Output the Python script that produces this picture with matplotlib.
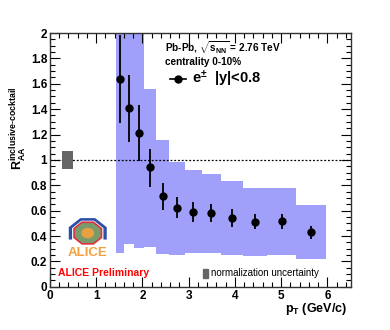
import numpy as np
import matplotlib
matplotlib.use("Agg")
import matplotlib.pyplot as plt
import matplotlib.patches as mpatches
from matplotlib.ticker import MultipleLocator

plt.rcParams['font.family'] = ['Liberation Sans', 'DejaVu Sans']
plt.rcParams['mathtext.fontset'] = 'custom'
plt.rcParams['mathtext.rm'] = 'Liberation Sans:bold'
plt.rcParams['mathtext.it'] = 'Liberation Sans:bold'
plt.rcParams['mathtext.bf'] = 'Liberation Sans:bold'
plt.rcParams['hatch.color'] = '#c4c4ff'
plt.rcParams['hatch.linewidth'] = 0.8

# data points
pt = [1.51, 1.70, 1.92, 2.16, 2.44, 2.75, 3.10, 3.49, 3.93, 4.44, 5.01, 5.65]
raa = [1.635, 1.41, 1.21, 0.94, 0.715, 0.623, 0.59, 0.584, 0.542, 0.513, 0.515, 0.429]
err_hi = [1.985, 1.67, 1.43, 1.086, 0.815, 0.705, 0.665, 0.652, 0.61, 0.573, 0.573, 0.479]
err_lo = [1.29, 1.14, 0.99, 0.79, 0.605, 0.54, 0.513, 0.508, 0.473, 0.453, 0.455, 0.376]

# systematic boxes
bin_edges = [1.42, 1.60, 1.81, 2.04, 2.29, 2.58, 2.91, 3.29, 3.70, 4.18, 4.70, 5.31, 5.97]
sys_top = [2.1, 2.1, 2.1, 1.556, 1.157, 0.986, 0.92, 0.892, 0.834, 0.776, 0.776, 0.644]
sys_bot = [0.27, 0.34, 0.303, 0.31, 0.258, 0.25, 0.263, 0.268, 0.25, 0.245, 0.25, 0.216]

norm_x = [0.255, 0.49]
norm_y = [0.93, 1.07]

fig = plt.figure(figsize=(3.9, 3.3), dpi=100)
ax = fig.add_axes([0.128, 0.131, 0.771, 0.769])

for i in range(len(sys_top)):
    ax.add_patch(mpatches.Rectangle((bin_edges[i], sys_bot[i]),
                                    bin_edges[i + 1] - bin_edges[i],
                                    sys_top[i] - sys_bot[i],
                                    facecolor='#a0a0fa', edgecolor='none',
                                    hatch='.....', lw=0, zorder=1))

ax.axhline(1.0, color='black', ls=(0, (1.5, 1.5)), lw=0.9, zorder=2)
ax.add_patch(mpatches.Rectangle((norm_x[0], norm_y[0]), norm_x[1] - norm_x[0],
                                norm_y[1] - norm_y[0], facecolor='#666666',
                                edgecolor='none', zorder=3))

y = np.array(raa)
ax.errorbar(pt, raa, yerr=[y - np.array(err_lo), np.array(err_hi) - y],
            fmt='o', color='black', ms=5, elinewidth=1.3, capsize=0, zorder=4)

ax.set_xlim(0, 6.5)
ax.set_ylim(0, 2)
ax.xaxis.set_major_locator(MultipleLocator(1))
ax.xaxis.set_minor_locator(MultipleLocator(0.2))
ax.yaxis.set_major_locator(MultipleLocator(0.2))
ax.yaxis.set_minor_locator(MultipleLocator(0.05))
ax.tick_params(which='both', direction='in', top=True, right=True,
               labelsize=8.5, width=0.8, pad=2)
ax.tick_params(which='major', length=7)
ax.tick_params(which='minor', length=3.5)
ax.set_yticks(np.arange(0, 2.01, 0.2))
ax.set_yticklabels(['0', '0.2', '0.4', '0.6', '0.8', '1', '1.2', '1.4', '1.6', '1.8', '2'])
for lab in ax.get_xticklabels() + ax.get_yticklabels():
    lab.set_fontweight('bold')
for s in ax.spines.values():
    s.set_linewidth(1.0)
    s.set_color('#333333')

fig.text(0.89, 0.04, r'$\mathrm{p_{T}}$ (GeV/c)', ha='right', va='bottom',
         fontsize=9, fontweight='bold')
fig.text(0.048, 0.61, r'$\mathrm{R_{AA}^{inclusive\text{-}cocktail}}$',
         rotation=90, ha='center', va='center', fontsize=9)

fig.text(0.423, 0.856, r'Pb-Pb, $\sqrt{\mathrm{s_{NN}}}$ = 2.76 TeV', fontsize=7.2,
         fontweight='bold', va='center')
fig.text(0.423, 0.812, 'centrality 0-10%', fontsize=7.2, fontweight='bold', va='center')
fig.lines.append(plt.Line2D([0.437, 0.477], [0.76, 0.76], color='black', lw=1.2,
                            transform=fig.transFigure))
fig.lines.append(plt.Line2D([0.457], [0.76], marker='o', ms=5, color='black',
                            transform=fig.transFigure))
fig.text(0.493, 0.762, r'e$^{\pm}$  |y|<0.8', fontsize=10.5, fontweight='bold',
         va='center')

fig.text(0.148, 0.173, 'ALICE Preliminary', color='#ff0000', fontsize=7.5,
         fontweight='bold', va='center')
fig.patches.append(mpatches.Rectangle((0.52, 0.158), 0.013, 0.028, color='#666666',
                                      transform=fig.transFigure))
fig.text(0.542, 0.173, 'normalization uncertainty', fontsize=7, va='center')

# ALICE logo
logo = fig.add_axes([0.17, 0.215, 0.11, 0.13])
logo.set_xlim(-1.3, 1.3)
logo.set_ylim(-2.0, 1.3)
logo.axis('off')
logo.add_patch(mpatches.Polygon([[-1.15, -0.5], [-1.15, 0.45], [-0.45, 1.15], [0.45, 1.15],
                                 [1.15, 0.45], [1.15, -0.5], [0.95, -0.5], [0.95, 0.38],
                                 [0.38, 0.95], [-0.38, 0.95], [-0.95, 0.38], [-0.95, -0.5]],
                                facecolor='#2c4fa8', edgecolor='none'))
logo.add_patch(mpatches.RegularPolygon((0, 0.0), 8, radius=0.9,
                                       orientation=np.pi / 8,
                                       facecolor='#7a9a6a', edgecolor='#e03040', lw=1.2))
logo.add_patch(mpatches.Circle((0, 0), 0.35, color='#e8a040'))
logo.text(0, -1.5, 'ALICE', color='#f5a040', fontsize=9.5, fontweight='bold',
          ha='center', va='center')

fig.savefig('out.png', dpi=100)
